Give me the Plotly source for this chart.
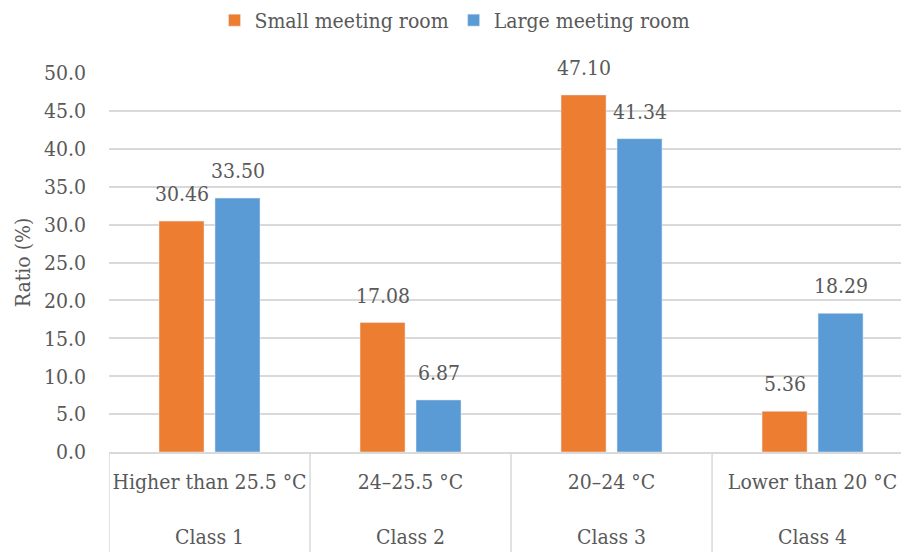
import plotly.graph_objects as go

classes = ["Class 1", "Class 2", "Class 3", "Class 4"]
ranges = ["Higher than 25.5 °C", "24–25.5 °C", "20–24 °C", "Lower than 20 °C"]
small = [30.46, 17.08, 47.10, 5.36]
large = [33.50, 6.87, 41.34, 18.29]
yticks = [0, 5, 10, 15, 20, 25, 30, 35, 40, 45, 50]

FONT = "DejaVu Serif Condensed"
TXT = "#595959"
LINE = "#D9D9D9"
FS = 21

idx = list(range(len(classes)))
ticktext = [f"{r}<br><br>{c}" for r, c in zip(ranges, classes)]

fig = go.Figure()
fig.add_trace(go.Bar(x=idx, y=small, name="Small meeting room",
                     marker_color="#ED7D31", cliponaxis=False))
fig.add_trace(go.Bar(x=idx, y=large, name="Large meeting room",
                     marker_color="#5B9BD5", cliponaxis=False))

BARGAP = 0.443
GROUPGAP = 0.196
slot = (1 - BARGAP) / 2
annotations = []
for i, (s, l) in enumerate(zip(small, large)):
    for off, v in ((-slot / 2, s), (slot / 2, l)):
        annotations.append(dict(
            x=i + off, y=v, xref="x", yref="y", text=f"{v:.2f}",
            showarrow=False, yanchor="bottom", yshift=13,
            font=dict(family=FONT, size=FS, color=TXT)))

shapes = []
for b in [-0.5, 0.5, 1.5, 2.5, 3.5]:
    shapes.append(dict(type="line", xref="x", yref="paper", x0=b, x1=b,
                       y0=0, y1=-100 / 379, line=dict(color=LINE, width=1.5)))

fig.update_layout(
    width=901, height=552,
    margin=dict(l=109, r=0, t=73, b=100),
    paper_bgcolor="white", plot_bgcolor="white",
    font=dict(family=FONT, size=FS, color=TXT),
    barmode="group", bargap=BARGAP, bargroupgap=GROUPGAP,
    showlegend=True,
    legend=dict(orientation="h", x=0.505, xref="container", xanchor="center",
                y=1.0, yref="container", yanchor="top",
                font=dict(family=FONT, size=FS, color=TXT),
                itemwidth=30, traceorder="normal"),
    annotations=annotations, shapes=shapes,
)
fig.update_xaxes(
    range=[-0.5, 3.44], tickvals=idx, ticktext=ticktext,
    showline=True, linecolor=LINE, linewidth=1.5, showgrid=False, zeroline=False,
    ticks="", ticklabelstandoff=10, tickfont=dict(family=FONT, size=FS, color=TXT),
)
fig.update_yaxes(
    range=[0, 50], tickvals=yticks, ticktext=[f"{v:.1f}" for v in yticks],
    showgrid=True, gridcolor=LINE, gridwidth=1.5, zeroline=False,
    ticks="", ticklabelstandoff=22, tickfont=dict(family=FONT, size=FS, color=TXT),
    title=dict(text="Ratio (%)", font=dict(family=FONT, size=FS, color=TXT), standoff=7),
)
fig.write_html("out.html")
